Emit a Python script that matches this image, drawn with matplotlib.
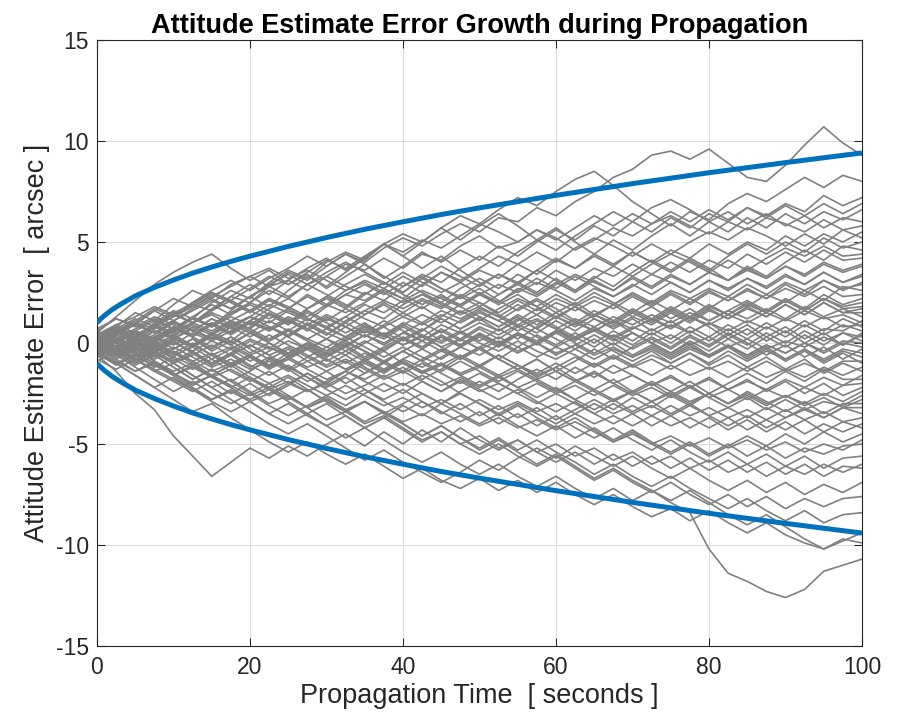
import matplotlib
matplotlib.use("Agg")
import matplotlib.pyplot as plt

# time grid of the hand-read traces (seconds)
t_trace = [i * 2.5 for i in range(41)]

# attitude error traces [arcsec]
traces = [
    [0.3, 0.8, 1.5, 1.1, 1.9, 2.6, 2.2, 2.9, 3.3, 2.8, 3.5, 3.1, 3.8, 4.4, 4.0, 4.7, 5.2, 4.8, 5.4, 5.9,
     5.5, 6.2, 6.0, 6.7, 6.3, 7.0, 7.5, 8.2, 8.6, 9.3, 9.5, 9.1, 9.6, 8.9, 8.2, 8.0, 8.8, 9.8, 10.7, 9.9, 9.3],
    [-0.2, 0.5, 0.2, 1.0, 1.6, 1.2, 2.0, 2.6, 2.2, 3.0, 3.6, 3.2, 4.0, 4.5, 4.1, 4.9, 5.4, 5.0, 5.7, 6.3,
     5.9, 6.6, 7.2, 6.8, 7.5, 8.1, 8.5, 7.8, 7.0, 6.4, 5.8, 6.5, 6.1, 6.9, 7.4, 7.0, 7.6, 8.2, 7.7, 8.3, 8.0],
    [0.5, 1.3, 2.1, 2.9, 3.5, 4.0, 4.4, 3.7, 3.1, 3.6, 2.9, 3.4, 2.7, 3.3, 3.9, 3.2, 3.8, 4.5, 4.0, 4.6,
     4.1, 4.8, 4.3, 5.0, 5.6, 5.1, 5.8, 5.3, 6.0, 5.5, 6.2, 5.7, 6.4, 6.0, 6.7, 6.3, 6.9, 6.5, 7.3, 6.8, 7.2],
    [0.0, -0.4, 0.3, 0.9, 0.5, 1.3, 0.8, 1.6, 2.3, 1.8, 2.6, 3.3, 2.8, 3.5, 4.2, 4.9, 4.3, 5.0, 5.7, 5.1,
     5.8, 6.4, 5.8, 5.1, 5.7, 5.0, 4.4, 5.1, 4.6, 5.3, 5.9, 5.3, 6.0, 5.5, 6.2, 5.7, 6.4, 5.9, 6.5, 6.1, 6.6],
    [-0.3, 0.4, 0.0, -0.5, 0.2, 0.8, 0.4, 1.1, 0.7, 1.4, 1.0, 1.7, 2.3, 1.8, 2.5, 2.1, 2.8, 3.4, 3.0, 3.7,
     4.3, 3.8, 4.5, 5.1, 4.6, 5.3, 5.9, 6.5, 6.0, 6.7, 7.1, 6.6, 6.0, 6.5, 5.9, 6.4, 5.8, 6.3, 5.7, 6.2, 6.0],
    [0.6, 1.2, 0.9, 1.6, 2.2, 1.8, 2.4, 2.0, 1.5, 2.1, 1.7, 2.4, 1.9, 2.6, 3.1, 2.7, 3.3, 2.8, 3.5, 3.0,
     3.6, 3.2, 3.9, 3.4, 4.1, 3.7, 4.3, 3.8, 4.5, 4.0, 4.6, 4.2, 4.9, 4.4, 5.0, 4.6, 5.3, 4.8, 5.4, 5.0, 5.5],
    [-0.5, -1.1, -0.6, -1.2, -0.7, -0.1, 0.5, 0.1, 0.8, 1.4, 1.0, 1.7, 2.2, 1.7, 2.4, 3.0, 2.5, 3.2, 3.8, 3.3,
     2.8, 3.4, 2.9, 3.6, 4.2, 3.7, 4.4, 3.9, 4.5, 4.0, 3.5, 4.1, 3.6, 4.3, 4.9, 4.4, 5.0, 4.5, 5.2, 4.7, 5.0],
    [0.2, 0.7, 1.2, 0.8, 1.4, 1.0, 1.7, 2.3, 2.9, 2.4, 3.1, 3.7, 4.2, 3.6, 4.2, 4.9, 4.3, 3.7, 4.3, 3.6,
     3.0, 2.4, 3.0, 2.5, 3.2, 2.6, 3.3, 2.8, 3.5, 4.1, 3.6, 4.2, 3.7, 3.1, 3.8, 3.3, 4.0, 4.6, 4.1, 4.8, 4.6],
    [-0.1, 0.5, 0.1, -0.4, -0.9, -0.4, -1.0, -0.5, 0.1, -0.3, 0.4, 0.9, 0.4, 1.1, 1.6, 1.2, 1.9, 2.4, 2.0, 2.7,
     3.2, 2.7, 3.4, 2.9, 3.6, 3.1, 3.7, 3.3, 3.9, 3.4, 4.0, 3.5, 4.1, 3.7, 4.4, 3.9, 4.5, 4.0, 4.6, 4.1, 4.2],
    [0.4, 0.0, 0.6, 1.1, 0.7, 1.3, 1.9, 1.4, 2.0, 1.6, 1.1, 0.6, 1.2, 0.8, 1.4, 2.0, 1.5, 2.1, 1.7, 2.3,
     1.8, 2.4, 2.9, 2.4, 3.0, 2.5, 3.1, 2.6, 3.3, 2.8, 3.4, 2.9, 3.5, 3.1, 3.7, 3.2, 3.8, 3.3, 3.9, 3.5, 3.8],
    [-0.6, -0.2, -0.8, -0.3, 0.2, -0.2, 0.4, 0.9, 0.5, 1.1, 0.6, 1.2, 0.8, 0.3, 0.9, 0.4, 1.0, 0.6, 1.3, 1.9,
     2.5, 2.0, 2.6, 3.2, 2.7, 3.3, 2.8, 2.3, 2.9, 2.4, 3.0, 2.5, 3.1, 2.6, 3.2, 2.7, 3.3, 2.9, 3.5, 3.0, 3.4],
    [0.1, 0.6, 1.0, 0.5, 1.1, 1.6, 2.1, 1.7, 2.3, 2.8, 2.3, 2.9, 2.4, 1.9, 1.4, 1.9, 1.3, 1.8, 1.2, 0.7,
     1.2, 0.6, 1.1, 1.7, 1.2, 1.8, 1.3, 1.9, 2.4, 1.9, 2.5, 2.0, 2.6, 2.1, 2.7, 2.2, 2.9, 2.4, 3.1, 2.6, 3.0],
    [-0.2, -0.7, -0.3, -0.9, -1.4, -1.0, -1.6, -1.1, -0.6, -1.1, -0.5, 0.0, -0.4, 0.2, 0.7, 0.3, 0.9, 1.4, 1.0, 1.6,
     1.1, 1.7, 2.2, 1.8, 2.4, 1.9, 2.5, 2.0, 1.5, 2.1, 1.6, 2.2, 1.7, 2.3, 1.8, 2.4, 2.0, 2.6, 2.1, 2.8, 2.6],
    [0.3, 0.8, 0.3, 0.9, 1.4, 2.0, 2.6, 3.1, 2.6, 3.2, 3.7, 4.3, 3.8, 4.4, 3.9, 3.3, 2.8, 3.3, 2.7, 2.2,
     2.7, 2.1, 1.6, 2.1, 1.5, 2.0, 1.4, 1.9, 1.3, 1.8, 1.2, 1.7, 1.1, 1.6, 2.1, 1.6, 2.2, 1.7, 2.4, 1.9, 2.2],
    [0.0, -0.5, -1.0, -0.6, -1.2, -1.8, -1.3, -1.9, -1.4, -0.8, -1.3, -0.7, -0.2, -0.6, 0.0, 0.5, 0.1, 0.6, 1.2, 0.7,
     1.3, 0.8, 1.4, 0.9, 1.5, 1.0, 1.6, 1.1, 1.7, 1.2, 1.8, 1.3, 1.9, 1.4, 2.0, 1.5, 2.1, 1.6, 2.2, 1.7, 1.8],
    [0.7, 1.2, 0.8, 1.3, 0.9, 0.4, 1.0, 0.5, 1.1, 0.6, 1.2, 0.7, 1.3, 0.8, 0.3, 0.8, 0.2, 0.7, 0.1, 0.6,
     0.1, 0.7, 0.2, 0.8, 1.3, 0.8, 1.4, 0.9, 1.5, 1.0, 1.6, 1.1, 1.7, 1.2, 1.8, 1.3, 1.9, 1.4, 2.0, 1.5, 1.5],
    [-0.4, 0.1, -0.3, 0.3, 0.8, 0.4, 1.0, 0.5, 1.1, 1.7, 2.2, 1.7, 2.3, 2.9, 3.4, 2.9, 3.5, 3.0, 2.5, 3.0,
     2.4, 1.9, 2.4, 1.8, 1.3, 1.8, 1.2, 0.7, 1.2, 0.6, 1.1, 0.5, 1.0, 0.4, 0.9, 0.3, 0.8, 0.2, 0.7, 0.6, 1.1],
    [0.2, -0.3, 0.2, -0.4, 0.1, -0.5, -1.1, -0.6, -1.2, -0.7, -1.3, -1.9, -1.4, -2.0, -1.5, -0.9, -1.4, -0.8, -0.3, -0.8,
     -0.2, 0.3, -0.2, 0.4, -0.1, 0.5, 0.0, 0.6, 0.1, 0.7, 0.2, 0.8, 0.3, 0.9, 0.4, 1.0, 0.5, 1.1, 0.6, 1.2, 0.8],
    [-0.7, -0.2, 0.3, 0.9, 1.5, 1.0, 1.6, 2.1, 1.6, 2.2, 1.7, 2.3, 1.8, 2.4, 2.9, 2.4, 3.0, 2.5, 2.0, 1.5,
     2.0, 1.4, 0.9, 1.4, 0.8, 0.3, 0.8, 0.2, 0.7, 1.2, 0.7, 1.3, 0.8, 0.2, 0.7, 0.1, 0.6, 0.0, 0.5, -0.1, 0.4],
    [0.1, 0.6, 0.2, -0.3, 0.2, -0.2, 0.4, -0.1, 0.5, 0.0, -0.5, 0.0, -0.6, -0.1, -0.7, -0.2, 0.3, -0.2, 0.4, -0.1,
     0.5, 0.0, -0.5, 0.0, -0.6, -0.1, 0.4, -0.1, 0.5, 0.0, -0.5, 0.1, -0.4, 0.2, -0.3, 0.3, -0.2, 0.4, -0.1, 0.5, 0.1],
    [-0.3, 0.2, 0.7, 1.2, 0.7, 1.3, 0.8, 1.4, 1.9, 1.4, 0.9, 1.5, 1.0, 0.5, 1.0, 0.4, -0.1, 0.4, -0.2, -0.7,
     -0.2, -0.8, -1.3, -0.8, -1.4, -0.9, -0.3, -0.8, -0.2, 0.3, -0.2, 0.4, -0.1, 0.5, 0.0, -0.6, -0.1, -0.7, -0.2, -0.8, -0.3],
    [0.4, 0.9, 0.5, 0.0, -0.5, 0.0, -0.6, -1.1, -0.6, -1.2, -0.7, -0.2, -0.7, -0.1, 0.4, -0.1, 0.5, 1.0, 0.5, 1.1,
     1.6, 1.1, 1.7, 2.2, 1.7, 1.1, 0.6, 1.1, 0.5, 0.0, -0.5, 0.0, -0.6, -0.1, -0.7, -0.2, -0.8, -0.3, -0.9, -0.4, -0.7],
    [-0.8, -1.3, -0.8, -1.4, -1.9, -2.4, -1.9, -2.5, -2.0, -2.6, -2.1, -1.5, -2.0, -1.4, -0.9, -1.4, -0.8, -0.3, -0.8, -0.2,
     0.3, -0.2, 0.4, -0.1, 0.5, 0.0, -0.5, 0.0, -0.6, -0.1, -0.6, -0.1, -0.7, -0.2, -0.8, -0.3, -0.9, -0.4, -1.0, -0.5, -1.0],
    [0.0, 0.5, 1.0, 1.6, 1.1, 1.7, 2.2, 1.7, 2.3, 2.9, 3.4, 2.9, 3.5, 4.0, 3.5, 3.0, 2.4, 1.9, 2.4, 1.8,
     1.3, 0.8, 1.3, 0.7, 0.2, -0.3, 0.2, -0.4, -0.9, -0.4, -1.0, -0.5, -1.1, -0.6, -1.2, -0.7, -1.3, -0.8, -1.5, -1.0, -1.4],
    [-0.1, -0.6, -0.2, -0.7, -0.3, 0.2, -0.3, 0.3, -0.2, 0.4, -0.1, -0.6, -1.1, -0.6, -1.2, -1.7, -1.2, -1.8, -1.3, -0.7,
     -1.2, -0.6, -1.1, -1.7, -1.2, -1.8, -2.3, -1.8, -2.4, -1.9, -2.4, -1.9, -2.5, -2.0, -1.5, -2.0, -1.4, -1.9, -1.3, -1.8, -1.8],
    [0.5, 0.0, -0.5, -1.0, -1.6, -1.1, -1.7, -2.2, -1.7, -2.3, -2.8, -2.3, -2.9, -3.4, -2.9, -3.5, -3.0, -2.5, -3.0, -2.4,
     -1.9, -2.4, -1.8, -1.3, -1.8, -1.2, -1.7, -1.1, -1.6, -2.1, -1.6, -2.2, -1.7, -2.3, -1.8, -2.4, -1.9, -2.5, -2.0, -2.6, -2.2],
    [-0.4, 0.1, 0.6, 0.2, 0.8, 0.3, -0.2, 0.3, -0.3, -0.8, -0.3, -0.9, -1.4, -0.9, -1.5, -1.0, -0.4, 0.1, -0.4, 0.2,
     -0.3, -0.8, -1.3, -0.8, -1.4, -1.9, -1.4, -2.0, -2.5, -2.0, -2.6, -2.1, -2.7, -3.2, -2.7, -3.3, -2.8, -3.3, -2.9, -3.1, -2.6],
    [0.2, -0.3, 0.1, -0.5, -1.0, -0.5, -1.1, -0.6, -0.1, -0.6, -1.2, -1.7, -2.3, -2.8, -2.3, -2.9, -3.4, -2.9, -3.5, -3.0,
     -3.6, -3.1, -3.7, -3.2, -3.8, -3.3, -2.8, -3.3, -2.7, -3.2, -2.6, -3.1, -2.5, -3.0, -2.4, -2.9, -3.4, -2.9, -3.5, -3.0, -3.0],
    [-0.9, -0.4, -0.9, -0.3, 0.2, 0.7, 0.2, 0.8, 1.3, 0.8, 0.3, -0.3, 0.2, -0.4, -0.9, -0.4, -1.0, -1.5, -1.0, -1.6,
     -2.1, -1.6, -2.2, -2.7, -2.2, -2.8, -3.3, -2.8, -3.4, -2.9, -3.5, -3.0, -3.6, -4.1, -3.6, -4.2, -3.7, -3.2, -3.7, -3.2, -3.5],
    [0.0, -0.6, -1.2, -1.8, -2.4, -1.9, -2.5, -3.0, -2.5, -3.1, -3.6, -3.1, -2.6, -3.1, -2.5, -2.0, -2.5, -1.9, -2.4, -1.8,
     -2.3, -2.8, -2.3, -2.9, -3.4, -2.9, -3.5, -4.0, -3.5, -4.1, -3.6, -4.2, -3.7, -4.3, -3.8, -4.4, -3.9, -4.5, -4.0, -4.4, -4.0],
    [0.3, -0.2, -0.7, -0.2, -0.8, -1.3, -0.8, -1.4, -1.9, -1.4, -2.0, -1.5, -2.1, -1.6, -1.0, -1.5, -0.9, -1.4, -1.9, -2.5,
     -3.0, -3.6, -3.1, -3.7, -4.2, -3.7, -4.3, -4.9, -4.4, -5.0, -5.5, -5.0, -5.6, -5.1, -4.6, -5.1, -4.5, -5.0, -4.4, -4.9, -4.5],
    [-0.5, -1.0, -1.6, -2.2, -1.7, -2.3, -2.9, -3.4, -2.9, -3.5, -3.0, -3.6, -4.1, -3.6, -4.2, -3.7, -3.1, -3.6, -3.0, -3.5,
     -4.0, -3.5, -4.1, -4.6, -4.1, -4.7, -4.2, -4.8, -4.3, -4.9, -5.4, -4.9, -5.5, -5.0, -5.6, -5.1, -5.7, -5.2, -5.5, -5.1, -5.0],
    [0.1, 0.6, 0.1, -0.4, 0.1, -0.5, -1.0, -0.5, -1.1, -1.6, -1.1, -1.7, -2.2, -1.7, -2.3, -2.8, -2.3, -2.9, -3.4, -3.9,
     -3.4, -4.0, -3.5, -4.1, -3.6, -4.2, -4.7, -4.2, -4.8, -5.3, -4.8, -5.4, -5.9, -5.4, -6.0, -5.5, -6.1, -5.6, -6.2, -5.7, -5.6],
    [-0.6, -1.4, -2.5, -3.3, -4.6, -5.6, -6.6, -5.9, -5.2, -5.7, -5.1, -5.6, -5.0, -4.5, -5.1, -4.4, -5.0, -4.3, -4.9, -4.2,
     -4.8, -5.3, -4.8, -5.4, -5.9, -5.4, -6.0, -5.5, -6.1, -5.6, -6.2, -5.7, -6.3, -5.8, -6.4, -5.9, -6.5, -6.0, -6.6, -6.1, -6.2],
    [0.2, -0.3, -0.9, -0.4, -1.0, -1.6, -2.2, -2.8, -3.4, -4.0, -4.5, -4.0, -4.6, -5.2, -5.8, -5.3, -5.9, -6.4, -6.9, -6.4,
     -5.8, -6.3, -5.7, -5.2, -5.7, -5.1, -5.6, -6.1, -5.6, -6.2, -6.7, -6.2, -6.8, -7.3, -6.8, -7.4, -6.9, -7.5, -7.0, -7.4, -6.9],
    [-0.3, -0.8, -0.3, -0.9, -1.5, -2.1, -1.6, -2.2, -2.8, -2.3, -2.9, -3.5, -3.0, -3.6, -4.2, -3.7, -4.3, -4.9, -4.4, -5.0,
     -5.5, -5.0, -5.6, -6.1, -5.6, -6.2, -6.8, -6.3, -6.9, -7.4, -6.9, -7.5, -8.0, -7.5, -8.1, -7.6, -8.2, -7.7, -8.1, -7.7, -7.6],
    [0.6, 0.1, -0.4, 0.1, -0.5, -1.0, -1.6, -1.1, -1.7, -2.2, -1.7, -2.3, -2.9, -3.4, -2.9, -3.5, -4.0, -4.6, -4.1, -4.7,
     -5.2, -4.7, -5.3, -4.8, -5.4, -5.9, -6.5, -6.0, -6.6, -7.1, -6.6, -7.2, -7.7, -8.2, -7.7, -8.3, -8.8, -8.3, -8.9, -8.5, -8.4],
    [-0.4, -1.0, -1.6, -2.2, -2.8, -3.4, -3.0, -3.7, -4.3, -4.9, -5.4, -4.9, -5.5, -6.0, -5.5, -6.1, -6.7, -6.2, -6.8, -7.2,
     -6.7, -7.3, -6.8, -7.4, -6.9, -7.5, -8.0, -7.5, -8.1, -8.6, -8.2, -8.8, -8.3, -8.9, -9.4, -8.9, -9.5, -9.9, -10.2, -9.8, -9.4],
    [0.0, -0.5, -1.1, -0.6, -1.2, -1.8, -1.3, -1.9, -2.5, -2.0, -2.6, -3.2, -2.7, -3.3, -3.9, -3.4, -4.0, -4.6, -4.1, -4.7,
     -5.3, -4.8, -5.4, -6.0, -5.5, -6.1, -6.7, -6.2, -6.8, -7.3, -7.8, -7.3, -7.9, -8.5, -9.0, -8.5, -9.1, -9.7, -10.2, -9.7, -9.9],
    [-0.2, -0.8, -1.4, -0.9, -1.6, -2.2, -2.8, -2.3, -2.9, -3.5, -4.0, -3.5, -4.1, -4.7, -4.2, -4.8, -5.4, -5.9, -5.4, -6.0,
     -6.5, -6.0, -6.6, -7.1, -6.6, -7.2, -7.7, -7.2, -7.8, -7.3, -7.9, -8.4, -10.2, -11.4, -11.8, -12.3, -12.6, -12.2, -11.3, -11.0, -10.7],
    # additional traces filling the dense central band
    [0.1, 0.4, 1.0, 0.7, 1.5, 1.9, 1.6, 2.3, 2.0, 2.8, 3.1, 2.6, 3.3, 3.9, 3.6, 4.2, 3.7, 4.4, 4.1, 4.8,
     5.3, 4.7, 5.0, 5.6, 5.2, 4.6, 5.1, 5.7, 5.3, 5.9, 6.3, 5.8, 5.4, 6.0, 5.6, 6.2, 5.9, 5.5, 6.1, 5.6, 5.8],
    [-0.3, 0.2, -0.1, 0.6, 0.3, 1.0, 1.4, 0.9, 1.3, 1.9, 1.5, 1.1, 1.8, 2.4, 2.1, 2.7, 2.2, 2.9, 3.5, 3.1,
     3.7, 4.3, 3.9, 4.5, 4.0, 4.7, 5.2, 4.8, 4.3, 4.9, 4.4, 5.0, 5.5, 5.1, 5.7, 5.3, 4.8, 5.4, 4.9, 5.6, 5.2],
    [0.2, 0.7, 0.3, 0.0, 0.6, 1.2, 0.9, 1.5, 2.0, 2.6, 2.2, 2.9, 3.3, 2.8, 2.4, 3.0, 2.5, 3.2, 2.7, 2.3,
     2.9, 3.4, 3.0, 3.6, 3.1, 2.6, 3.2, 3.8, 3.3, 3.9, 4.4, 4.0, 3.5, 4.1, 3.6, 4.2, 4.7, 4.3, 4.8, 4.3, 4.4],
    [-0.1, -0.5, 0.0, 0.4, 1.0, 0.6, 0.2, 0.8, 1.3, 1.0, 1.6, 1.2, 0.7, 1.3, 1.9, 1.5, 2.1, 2.6, 2.2, 1.8,
     2.4, 2.0, 2.7, 2.3, 2.9, 3.4, 3.0, 2.6, 3.2, 2.7, 3.3, 2.9, 3.5, 3.1, 3.6, 3.2, 3.8, 3.4, 4.0, 3.6, 3.9],
    [0.4, 0.9, 1.3, 1.8, 1.4, 2.0, 2.5, 2.1, 1.6, 2.2, 1.8, 1.3, 1.9, 1.5, 2.0, 2.6, 2.2, 1.7, 2.3, 1.9,
     2.4, 2.9, 2.5, 3.0, 2.6, 2.1, 2.7, 2.3, 2.8, 3.4, 3.0, 2.5, 3.1, 2.7, 3.2, 2.8, 3.4, 2.9, 3.5, 3.0, 3.3],
    [-0.2, -0.6, -0.2, 0.3, -0.1, 0.5, 0.1, 0.6, 1.1, 0.7, 1.3, 0.9, 1.4, 1.0, 1.6, 2.1, 1.7, 2.2, 1.8, 2.4,
     2.0, 1.5, 2.1, 1.6, 2.2, 1.8, 2.3, 1.9, 2.5, 2.0, 2.6, 2.2, 2.7, 2.3, 2.9, 2.4, 3.0, 2.6, 3.1, 2.7, 2.9],
    [0.3, 0.0, 0.5, 0.1, 0.7, 0.3, 0.9, 0.4, 1.0, 0.6, 1.1, 0.7, 0.2, 0.8, 0.3, 0.9, 1.5, 1.0, 1.6, 1.2,
     1.7, 1.3, 1.9, 1.4, 2.0, 1.6, 2.1, 1.7, 2.3, 1.8, 2.4, 1.9, 2.5, 2.1, 2.6, 2.2, 2.7, 2.3, 2.8, 2.3, 2.4],
    [0.0, 0.4, 0.9, 0.5, 1.0, 0.6, 1.2, 0.8, 0.3, 0.8, 0.4, 1.0, 0.5, 0.1, 0.6, 0.2, 0.8, 0.3, 0.9, 0.5,
     1.0, 0.6, 1.2, 0.7, 1.3, 0.9, 1.4, 1.0, 1.6, 1.1, 1.7, 1.2, 1.8, 1.4, 1.9, 1.5, 2.1, 1.6, 2.2, 1.8, 2.0],
    [-0.4, 0.0, -0.5, -0.1, -0.6, -0.2, -0.8, -0.3, -0.9, -0.4, 0.1, -0.3, 0.2, -0.2, 0.4, 0.0, 0.5, 0.1, 0.7, 0.2,
     0.8, 0.4, 0.9, 0.5, 1.1, 0.6, 1.2, 0.8, 1.3, 0.9, 1.5, 1.0, 1.6, 1.2, 1.7, 1.3, 1.9, 1.4, 2.0, 1.5, 1.7],
    [0.5, 0.1, 0.6, 0.2, 0.7, 1.2, 0.8, 1.3, 0.9, 1.5, 1.0, 1.6, 1.1, 1.7, 1.2, 0.8, 1.3, 0.9, 1.4, 1.0,
     1.5, 1.1, 0.6, 1.1, 0.7, 1.2, 0.8, 1.3, 0.9, 1.4, 1.0, 1.5, 1.1, 1.6, 1.2, 1.7, 1.2, 1.8, 1.3, 1.7, 1.3],
    [-0.1, 0.3, -0.2, 0.3, -0.3, 0.2, -0.4, 0.1, -0.5, 0.0, -0.6, -0.1, -0.7, -0.2, -0.8, -0.3, 0.2, -0.2, 0.3, -0.1,
     0.4, 0.0, 0.5, 0.1, 0.6, 0.2, 0.7, 0.3, 0.8, 0.4, 0.9, 0.5, 1.0, 0.6, 1.1, 0.7, 1.2, 0.8, 1.3, 0.8, 0.9],
    [0.2, 0.6, 0.2, 0.7, 1.1, 0.6, 1.2, 0.7, 1.3, 0.8, 0.3, 0.9, 0.4, 1.0, 0.5, 1.1, 0.6, 0.1, 0.6, 0.1,
     0.7, 0.2, 0.8, 0.3, -0.2, 0.3, -0.2, 0.4, -0.1, 0.5, 0.0, 0.6, 0.1, 0.7, 0.2, 0.8, 0.3, 0.9, 0.4, 0.9, 0.6],
    [-0.5, -0.1, -0.6, -0.2, -0.7, -1.1, -0.6, -1.2, -0.7, -1.3, -0.8, -0.3, -0.9, -0.4, 0.1, -0.4, 0.2, -0.3, 0.3, -0.2,
     0.4, -0.1, 0.5, 0.0, 0.6, 0.1, 0.7, 0.2, -0.3, 0.2, -0.3, 0.3, -0.2, 0.4, -0.1, 0.5, 0.0, 0.6, 0.1, 0.5, 0.3],
    [0.1, -0.3, 0.2, -0.2, 0.3, -0.1, 0.4, 0.0, 0.5, 0.1, 0.6, 0.2, 0.7, 0.3, 0.8, 0.4, -0.1, 0.3, -0.2, 0.2,
     -0.3, 0.1, -0.4, 0.0, -0.5, -0.1, -0.6, -0.2, -0.7, -0.3, -0.8, -0.3, -0.7, -0.2, -0.6, -0.1, -0.5, 0.0, -0.4, 0.1, 0.0],
    [0.3, 0.8, 0.4, 0.9, 0.5, 1.0, 1.5, 1.1, 1.6, 1.2, 1.7, 1.2, 0.8, 1.3, 0.8, 0.4, 0.9, 0.4, 0.0, 0.5,
     0.0, -0.4, 0.1, -0.4, -0.8, -0.3, -0.8, -0.3, -0.7, -0.2, -0.7, -0.2, -0.6, -0.1, -0.6, -0.1, -0.5, 0.0, -0.5, 0.0, -0.2],
    [-0.2, -0.6, -0.1, -0.5, 0.0, -0.4, 0.1, -0.3, 0.2, -0.2, -0.6, -0.1, -0.5, 0.0, -0.4, -0.9, -0.4, -0.9, -0.4, -0.8,
     -0.3, -0.8, -0.2, -0.7, -0.2, -0.6, -1.1, -0.6, -1.1, -0.6, -1.0, -0.5, -1.0, -0.4, -0.9, -0.4, -0.8, -0.3, -0.8, -0.3, -0.5],
    [0.0, 0.5, 0.1, 0.6, 0.2, -0.2, 0.3, -0.1, -0.6, -0.2, -0.7, -0.3, -0.8, -1.3, -0.8, -1.3, -0.9, -1.4, -1.0, -1.5,
     -1.1, -1.6, -1.1, -1.6, -1.2, -0.7, -1.2, -0.7, -1.2, -0.8, -1.3, -0.8, -1.3, -0.9, -1.4, -0.9, -1.4, -1.0, -1.4, -0.9, -0.9],
    [-0.3, 0.1, 0.5, 0.1, 0.6, 1.0, 0.6, 1.1, 0.7, 0.2, 0.7, 0.2, -0.2, 0.3, -0.2, -0.7, -0.2, -0.7, -1.1, -0.6,
     -1.1, -0.6, -1.1, -1.5, -1.0, -1.5, -1.0, -1.5, -1.1, -1.6, -1.1, -1.6, -1.2, -1.7, -1.2, -1.7, -1.3, -1.7, -1.2, -1.6, -1.2],
    [0.4, 0.0, -0.4, 0.0, -0.5, -0.9, -0.5, -1.0, -0.6, -1.1, -0.7, -1.2, -0.8, -1.3, -0.9, -1.4, -1.0, -1.5, -1.1, -1.6,
     -1.2, -1.7, -1.3, -1.8, -1.4, -1.9, -1.5, -2.0, -1.6, -2.1, -1.7, -2.2, -1.8, -2.3, -1.9, -2.3, -1.8, -2.2, -1.7, -2.1, -1.6],
    [-0.1, 0.3, -0.2, -0.6, -0.2, -0.7, -1.2, -0.8, -1.3, -0.9, -1.4, -0.9, -0.5, -1.0, -0.5, -1.0, -1.5, -1.0, -1.5, -2.0,
     -1.5, -2.0, -2.5, -2.0, -2.5, -2.1, -2.6, -2.1, -2.6, -2.2, -2.7, -2.2, -2.7, -2.3, -2.8, -2.3, -2.7, -2.2, -2.6, -2.1, -2.0],
    [0.2, -0.2, 0.3, -0.1, 0.4, 0.9, 0.5, 1.0, 0.6, 0.1, 0.6, 0.1, -0.4, 0.1, -0.4, -0.9, -0.4, -0.9, -1.4, -0.9,
     -1.4, -1.9, -1.4, -1.9, -2.4, -1.9, -2.4, -2.9, -2.4, -2.9, -2.4, -2.9, -2.5, -3.0, -2.5, -3.0, -2.6, -3.0, -2.5, -2.9, -2.4],
    [-0.6, -1.0, -0.6, -1.1, -1.6, -1.2, -1.7, -1.3, -1.8, -2.3, -1.9, -2.4, -2.0, -2.5, -2.1, -1.6, -2.1, -1.6, -2.1, -1.7,
     -2.2, -1.7, -2.2, -1.8, -2.3, -2.8, -2.3, -2.8, -2.4, -2.9, -2.5, -3.0, -2.5, -3.0, -2.6, -3.1, -2.6, -3.1, -2.7, -3.2, -2.8],
    [0.1, -0.4, -0.9, -0.5, -1.0, -0.6, -0.1, -0.6, -0.1, -0.6, -0.2, -0.7, -1.2, -0.8, -1.3, -1.8, -1.4, -1.9, -2.4, -1.9,
     -2.4, -2.0, -2.5, -3.0, -2.5, -3.0, -3.5, -3.0, -3.5, -3.1, -3.6, -3.1, -3.6, -3.2, -3.7, -3.2, -3.7, -3.3, -3.7, -3.2, -3.2],
    [-0.2, 0.2, -0.3, -0.8, -0.4, -0.9, -1.4, -1.0, -1.5, -2.0, -1.6, -2.1, -2.6, -2.1, -2.6, -3.1, -2.7, -3.2, -2.8, -3.3,
     -2.8, -3.3, -2.9, -3.4, -3.0, -3.5, -3.0, -3.5, -3.1, -3.6, -3.1, -3.6, -3.2, -3.7, -3.3, -3.8, -3.3, -3.8, -3.4, -3.9, -3.7],
    [0.3, 0.7, 0.3, 0.8, 0.4, -0.1, -0.6, -0.2, -0.7, -1.2, -0.8, -1.3, -1.8, -1.4, -1.9, -2.4, -2.0, -2.5, -3.0, -2.5,
     -3.0, -3.5, -3.0, -3.5, -4.0, -3.5, -4.0, -3.6, -4.1, -3.6, -4.1, -3.7, -4.2, -3.7, -4.3, -3.8, -4.3, -3.8, -4.4, -3.9, -4.2],
    [-0.4, -0.9, -1.4, -1.0, -1.5, -2.0, -1.6, -2.1, -2.6, -2.2, -2.7, -3.2, -2.8, -3.3, -2.9, -3.4, -3.9, -3.5, -4.0, -3.6,
     -4.1, -3.7, -4.2, -3.8, -4.3, -3.9, -4.4, -4.9, -4.5, -5.0, -4.6, -5.1, -4.7, -5.2, -4.8, -5.3, -4.9, -5.4, -5.0, -5.3, -4.8],
    [0.0, 0.6, 1.1, 1.7, 1.3, 1.9, 2.5, 2.1, 2.7, 3.3, 2.9, 3.5, 4.1, 3.7, 4.3, 4.9, 4.5, 5.1, 4.7, 5.3,
     5.9, 5.5, 5.0, 5.6, 5.1, 5.7, 6.3, 5.8, 6.4, 5.9, 6.5, 6.0, 6.6, 6.1, 6.7, 6.2, 6.8, 6.3, 6.9, 6.4, 6.9],
    [0.2, -0.3, -0.8, -1.4, -1.0, -1.6, -2.2, -1.8, -2.4, -3.0, -2.6, -3.2, -3.8, -3.4, -4.0, -3.6, -4.2, -4.8, -4.4, -5.0,
     -4.6, -5.2, -4.8, -5.4, -5.0, -5.6, -5.2, -5.8, -5.4, -6.0, -5.6, -6.2, -5.8, -6.4, -6.0, -6.6, -6.1, -6.5, -6.0, -6.4, -6.0],
    [-0.6, -0.2, 0.3, 0.8, 1.3, 1.8, 2.3, 2.8, 3.3, 3.7, 3.2, 3.6, 3.1, 2.6, 3.0, 2.5, 2.0, 2.4, 1.9, 1.4,
     1.8, 1.3, 0.8, 1.2, 0.7, 0.2, 0.6, 0.1, 0.5, 0.0, 0.4, -0.1, 0.3, -0.2, 0.2, -0.3, 0.1, -0.2, 0.3, -0.1, 0.5],
    [0.1, -0.3, -0.8, -1.3, -1.8, -2.3, -2.8, -2.4, -2.9, -2.5, -2.0, -2.4, -1.9, -1.4, -1.8, -1.3, -0.8, -1.2, -0.7, -0.2,
     -0.6, -0.1, 0.4, 0.0, 0.5, 1.0, 0.6, 1.1, 0.7, 1.2, 0.8, 1.3, 0.9, 1.4, 1.0, 1.5, 1.1, 1.6, 1.2, 1.4, 1.0],
]

# envelope
t_bound = [0, 0.25, 0.5, 1, 2, 3, 5, 7.5, 10, 12.5, 15, 17.5, 20, 25, 30, 35, 40, 45, 50,
           55, 60, 65, 70, 75, 80, 85, 90, 95, 100]
bound = [1.0, 1.1, 1.2, 1.37, 1.66, 1.90, 2.33, 2.75, 3.12, 3.46, 3.76, 4.04, 4.30, 4.78, 5.22,
         5.63, 6.00, 6.36, 6.69, 7.00, 7.31, 7.60, 7.89, 8.16, 8.43, 8.68, 8.93, 9.17, 9.41]

x_ticks = [0, 20, 40, 60, 80, 100]
y_ticks = [-15, -10, -5, 0, 5, 10, 15]

bad = [i for i, tr in enumerate(traces) if len(tr) != len(t_trace)]
assert not bad, bad

plt.rcParams['font.family'] = ['Liberation Sans', 'DejaVu Sans']

fig = plt.figure(figsize=(9.03, 7.16), dpi=100)
ax = fig.add_axes([97 / 903, 1 - 646 / 716, (862 - 97) / 903, (646 - 40) / 716])

for tr in traces:
    ax.plot(t_trace, tr, color=(0.5, 0.5, 0.5), lw=1.2, zorder=2)

ax.plot(t_bound, bound, color='#0072BD', lw=3.6, zorder=3, solid_capstyle='butt')
ax.plot(t_bound, [-b for b in bound], color='#0072BD', lw=3.6, zorder=3, solid_capstyle='butt')

ax.set_xlim(0, 100)
ax.set_ylim(-15, 15)
ax.set_xticks(x_ticks)
ax.set_yticks(y_ticks)
ax.set_xticklabels([str(v) for v in x_ticks])
ax.set_yticklabels([str(v) for v in y_ticks])
ax.grid(True, color='#dcdcdc', lw=0.7, zorder=0)
ax.set_axisbelow(True)
ax.tick_params(direction='in', length=6, width=0.8, colors='#262626', labelsize=16.5,
               top=True, right=True)
ax.tick_params(axis='x', pad=7)
ax.tick_params(axis='y', pad=6)
for s in ax.spines.values():
    s.set_color('#262626')
    s.set_linewidth(0.8)

ax.set_xlabel('Propagation Time  [ seconds ]', fontsize=19.5, color='#262626', labelpad=3)
ax.set_ylabel('Attitude Estimate Error  [ arcsec ]', fontsize=19.5, color='#262626', labelpad=4)
ax.set_title('Attitude Estimate Error Growth during Propagation', fontsize=19.5, fontweight='bold',
             color='black', pad=5)

fig.savefig('out.png', dpi=100)
